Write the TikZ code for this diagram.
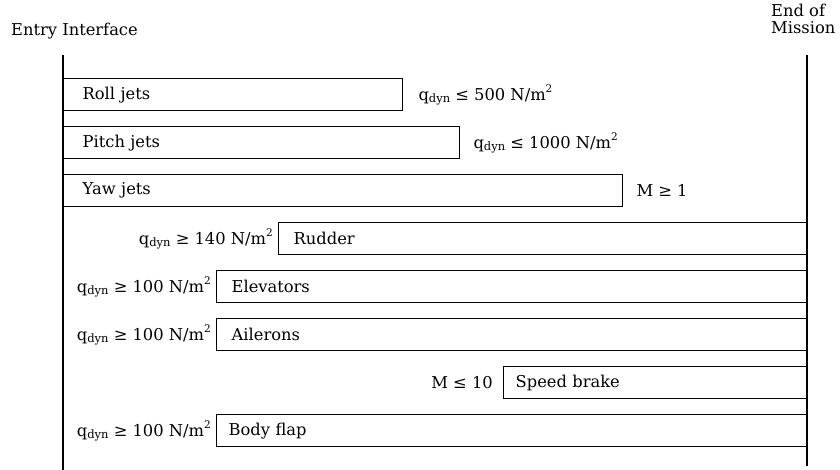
\documentclass[tikz,border=0pt]{standalone}
\usepackage{fontspec}
\setmainfont{DejaVu Serif}
\usetikzlibrary{calc}
\tikzset{
  box/.style={draw, line width=1.3pt, minimum height=32pt, inner ysep=0pt, anchor=north west, align=left},
  lab/.style={inner sep=0pt},
  rail/.style={line width=2pt},
}
\newcommand{\qd}{q\raisebox{-0.25ex}{\fontsize{11.5}{13}\selectfont dyn}}
\newcommand{\nm}{N/m\raisebox{0.9ex}{\fontsize{10.5}{12}\selectfont 2}}
\begin{document}
\begin{tikzpicture}[x=1pt,y=-1pt,font=\fontsize{16.3}{19}\selectfont]
\useasboundingbox (0,0) rectangle (840,470);
\coordinate (Ltop) at (63,55);
\coordinate (Lbot) at (63,470);
\coordinate (Rtop) at (807,55);
\coordinate (Rbot) at (807,466);
\draw[rail] (Ltop) -- (Lbot);
\draw[rail] (Rtop) -- (Rbot);
\node[anchor=west, inner sep=0pt] (entry) at (11,31) {Entry Interface};
\node[anchor=north west, align=left, inner sep=0pt] (end) at (771,4) {End of\\[-2pt]Mission};
% boxes
\node[box, inner xsep=19pt, text width=339pt-38pt] (roll) at (63,78) {Roll jets};
\node[box, inner xsep=19pt, text width=396pt-38pt] (pitch) at (63,126) {Pitch jets};
\node[box, inner xsep=19pt, text width=559pt-38pt] (yaw) at (63,174) {Yaw jets};
\node[box, inner xsep=15pt, text width=529pt-30pt] (rudder) at (278,222) {Rudder};
\node[box, inner xsep=15pt, text width=591pt-30pt] (elev) at (216,270) {Elevators};
\node[box, inner xsep=15pt, text width=591pt-30pt] (ail) at (216,318) {Ailerons};
\node[box, inner xsep=12pt, text width=304pt-24pt] (speed) at (503,366) {Speed brake};
\node[box, inner xsep=12pt, text width=591pt-24pt] (flap) at (216,414) {Body flap};
% labels
\node[lab, anchor=west] (lroll) at ($(roll.east)+(15,0)$) {\qd{} ≤ 500 \nm};
\node[lab, anchor=west] (lpitch) at ($(pitch.east)+(13,0)$) {\qd{} ≤ 1000 \nm};
\node[lab, anchor=west] (lyaw) at ($(yaw.east)+(13,0)$) {M ≥ 1};
\node[lab, anchor=east] (lrudder) at ($(rudder.west)+(-5,0)$) {\qd{} ≥ 140 \nm};
\node[lab, anchor=east] (lelev) at ($(elev.west)+(-5,0)$) {\qd{} ≥ 100 \nm};
\node[lab, anchor=east] (lail) at ($(ail.west)+(-5,0)$) {\qd{} ≥ 100 \nm};
\node[lab, anchor=east] (lspeed) at ($(speed.west)+(-10,0)$) {M ≤ 10};
\node[lab, anchor=east] (lflap) at ($(flap.west)+(-5,0)$) {\qd{} ≥ 100 \nm};
\end{tikzpicture}
\end{document}
